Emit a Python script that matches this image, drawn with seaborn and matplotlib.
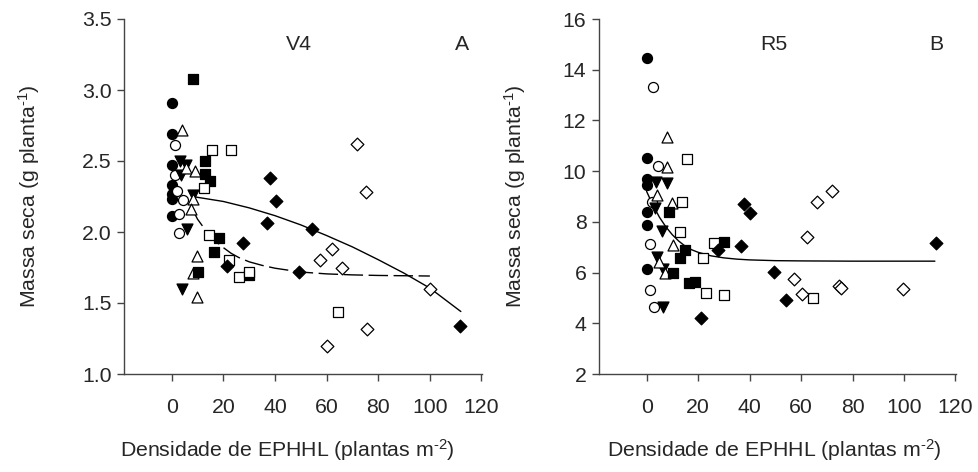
import matplotlib
matplotlib.use("Agg")
import matplotlib.pyplot as plt
import seaborn as sns
import pandas as pd

# ---------------- Panel A (V4) ----------------
a_fcirc_x = [0, 0, 0, 0, 0, 0, 0]
a_fcirc_y = [2.91, 2.69, 2.47, 2.33, 2.27, 2.23, 2.11]
a_ocirc_x = [1.3, 1.3, 1.9, 4.3, 3.0, 2.9]
a_ocirc_y = [2.61, 2.40, 2.29, 2.225, 2.13, 1.99]
a_finv_x = [3.2, 5.5, 3.6, 8.4, 5.8, 3.9]
a_finv_y = [2.50, 2.47, 2.40, 2.26, 2.02, 1.60]
a_otri_x = [3.9, 5.5, 9.0, 8.4, 7.4, 9.7, 8.4, 9.7]
a_otri_y = [2.72, 2.45, 2.43, 2.23, 2.16, 1.83, 1.71, 1.54]
a_fsq_x = [8.2, 12.9, 12.9, 14.8, 18.3, 16.5, 10.3, 30.0]
a_fsq_y = [3.08, 2.50, 2.41, 2.36, 1.96, 1.86, 1.72, 1.70]
a_osq_x = [15.5, 23.0, 12.5, 14.5, 22.2, 26.2, 30.0, 64.5]
a_osq_y = [2.58, 2.58, 2.31, 1.98, 1.80, 1.68, 1.72, 1.44]
a_fdia_x = [38.0, 40.3, 36.8, 27.7, 21.5, 54.2, 49.3, 111.6]
a_fdia_y = [2.38, 2.22, 2.06, 1.92, 1.76, 2.02, 1.72, 1.34]
a_odia_x = [71.8, 75.1, 62.2, 57.4, 66.0, 100.0, 75.7, 60.2]
a_odia_y = [2.62, 2.28, 1.88, 1.80, 1.744, 1.60, 1.317, 1.197]

# fitted curves
a_solid_x = [8, 20, 30, 40, 50, 60, 70, 80, 90, 100, 112]
a_solid_y = [2.25, 2.215, 2.17, 2.115, 2.05, 1.975, 1.895, 1.805, 1.71, 1.605, 1.44]
a_dash_x = [8, 10, 12, 14, 16, 18, 20, 23, 26, 30, 35, 40, 50, 60, 70, 80, 90, 100]
a_dash_y = [2.16, 2.09, 2.04, 1.99, 1.95, 1.92, 1.89, 1.85, 1.82, 1.79, 1.765, 1.745, 1.718, 1.705, 1.698, 1.694, 1.692, 1.69]

# ---------------- Panel B (R5) ----------------
b_fcirc_x = [0, 0, 0, 0, 0, 0, 0]
b_fcirc_y = [14.47, 10.53, 9.68, 9.45, 8.40, 7.88, 6.14]
b_ocirc_x = [2.6, 4.5, 2.0, 1.3, 1.3, 2.9]
b_ocirc_y = [13.33, 10.2, 8.78, 7.13, 5.31, 4.63]
b_finv_x = [3.6, 7.9, 3.4, 6.0, 4.1, 6.2, 6.2]
b_finv_y = [9.58, 9.55, 8.53, 7.64, 6.63, 6.14, 4.63]
b_otri_x = [8.1, 7.9, 3.9, 9.7, 10.1, 4.9, 7.1]
b_otri_y = [11.36, 10.15, 9.04, 8.75, 7.07, 6.40, 6.00]
b_fsq_x = [8.6, 14.8, 12.9, 10.3, 16.3, 18.8, 29.9]
b_fsq_y = [8.38, 6.89, 6.56, 6.00, 5.58, 5.63, 7.19]
b_osq_x = [15.5, 13.9, 12.9, 26.3, 22.0, 23.1, 30.0, 64.5]
b_osq_y = [10.47, 8.78, 7.60, 7.18, 6.56, 5.20, 5.10, 4.98]
b_fdia_x = [38.0, 40.0, 36.8, 27.7, 21.3, 49.3, 54.2, 112.5]
b_fdia_y = [8.69, 8.36, 7.05, 6.89, 4.21, 6.04, 4.90, 7.16]
b_odia_x = [72.0, 66.2, 62.3, 57.2, 60.2, 74.8, 75.7, 99.7]
b_odia_y = [9.22, 8.80, 7.39, 5.73, 5.17, 5.48, 5.38, 5.34]

b_solid_x = [0, 2.5, 5, 7.5, 10, 12.5, 15, 17.5, 20, 25, 30, 35, 40, 50, 60, 80, 100, 112]
b_solid_y = [9.2, 8.65, 8.18, 7.8, 7.49, 7.24, 7.04, 6.9, 6.8, 6.66, 6.58, 6.53, 6.5, 6.47, 6.46, 6.45, 6.45, 6.45]

y_ticks_a = [1.0, 1.5, 2.0, 2.5, 3.0, 3.5]
y_ticks_b = [2, 4, 6, 8, 10, 12, 14, 16]
x_ticks = [0, 20, 40, 60, 80, 100, 120]

sns.set_theme(style="ticks")
plt.rcParams['font.family'] = ['Liberation Sans', 'DejaVu Sans']
plt.rcParams['mathtext.fontset'] = 'custom'
plt.rcParams['mathtext.rm'] = 'Liberation Sans'
plt.rcParams['mathtext.it'] = 'Liberation Sans:italic'
plt.rcParams['mathtext.bf'] = 'Liberation Sans:bold'

FS = 15.3
fig = plt.figure(figsize=(9.79, 4.72), dpi=100)
axA = fig.add_axes([124/979, 98/472, 358/979, 355/472])
axB = fig.add_axes([599/979, 98/472, 357/979, 355/472])

styles = [
    ("fcirc", "o", "black", 52),
    ("ocirc", "o", "white", 52),
    ("finv", "v", "black", 62),
    ("otri", "^", "white", 62),
    ("fsq", "s", "black", 52),
    ("osq", "s", "white", 52),
    ("fdia", "D", "black", 42),
    ("odia", "D", "white", 42),
]

def draw(ax, prefix, g):
    for name, mk, fc, s in styles:
        xs = g[f"{prefix}_{name}_x"]
        ys = g[f"{prefix}_{name}_y"]
        df = pd.DataFrame({"x": xs, "y": ys})
        sns.scatterplot(data=df, x="x", y="y", marker=mk, s=s, color=fc,
                        edgecolor="black", linewidth=0.9, ax=ax, zorder=3, legend=False)

g = globals()
draw(axA, "a", g)
draw(axB, "b", g)

sns.lineplot(x=a_solid_x, y=a_solid_y, ax=axA, color="black", lw=1.0, sort=False, zorder=2)
sns.lineplot(x=a_dash_x, y=a_dash_y, ax=axA, color="black", lw=1.0, sort=False, zorder=2,
             dashes=False).lines[-1].set_dashes([14, 4])
sns.lineplot(x=b_solid_x, y=b_solid_y, ax=axB, color="black", lw=1.0, sort=False, zorder=2)

for ax, yt, ylim, lbl, letter in [
    (axA, y_ticks_a, (1.0, 3.5), "V4", "A"),
    (axB, y_ticks_b, (2, 16), "R5", "B"),
]:
    ax.set_xlim(-18.5, 120.2)
    ax.set_ylim(*ylim)
    ax.set_xticks(x_ticks)
    ax.set_yticks(yt)
    if ax is axA:
        ax.set_yticklabels([f"{v:.1f}" for v in yt])
    ax.tick_params(axis="both", labelsize=FS, direction="out", length=5, width=1,
                   color="#444444")
    ax.tick_params(axis="x", pad=12)
    ax.tick_params(axis="y", pad=4)
    for sp in ["top", "right"]:
        ax.spines[sp].set_visible(False)
    for sp in ["left", "bottom"]:
        ax.spines[sp].set_color("#444444")
        ax.spines[sp].set_linewidth(1.0)
    ax.set_xlabel(r"Densidade de EPHHL (plantas m$^{\text{-}2}$)", fontsize=FS)
    ax.set_ylabel(r"Massa seca (g planta$^{\text{-}1}$)", fontsize=FS)
    ytxt = ylim[0] + (ylim[1] - ylim[0]) * (1 - 25/355)
    ax.text(49.3, ytxt, lbl, fontsize=FS, ha="center", va="center")
    ax.text(112.4, ytxt, letter, fontsize=FS, ha="center", va="center")

axA.xaxis.set_label_coords(0.455, -0.178)
axB.xaxis.set_label_coords(0.49, -0.178)
axA.yaxis.set_label_coords(-0.229, 0.5)
axB.yaxis.set_label_coords(-0.199, 0.5)

fig.savefig("out.png", dpi=100)
